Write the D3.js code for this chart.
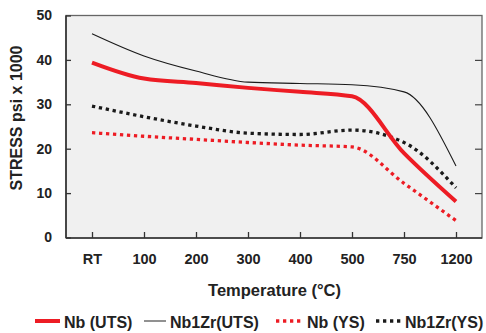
<!DOCTYPE html>
<html>
<head>
<meta charset="utf-8">
<script src="https://cdn.jsdelivr.net/npm/d3@7"></script>
<style>
  body { margin: 0; background: #fff; }
  text { font-family: "Liberation Sans", Arial, sans-serif; }
</style>
</head>
<body>
<div id="chart"></div>
<script>
const categories = ['RT', '100', '200', '300', '400', '500', '750', '1200']
const nbUTS = [39.4, 35.8, 34.8, 33.7, 32.8, 31.8, 19.0, 8.1]
const nb1ZrUTS = [45.9, 40.9, 37.5, 35.0, 34.7, 34.4, 32.8, 16.1]
const nbYS = [23.6, 22.8, 22.1, 21.4, 20.8, 20.4, 12.2, 3.8]
const nb1ZrYS = [29.6, 27.2, 25.1, 23.5, 23.2, 24.2, 21.4, 11.2]
const yTicks = [0, 10, 20, 30, 40, 50]

const Width = 486
const Height = 333
const plotLeft = 66, plotRight = 482, plotTop = 15.5, plotBottom = 238

const series = [
    { name: 'Nb (UTS)', values: nbUTS, color: '#ed1c24', width: 4, dash: null },
    { name: 'Nb1Zr(UTS)', values: nb1ZrUTS, color: '#1a1a1a', width: 1.1, dash: null },
    { name: 'Nb (YS)', values: nbYS, color: '#ed1c24', width: 3.3, dash: '3.3,3.7' },
    { name: 'Nb1Zr(YS)', values: nb1ZrYS, color: '#1a1a1a', width: 3.3, dash: '3.3,3.7' }
]

const svg = d3.select('#chart')
    .append('svg')
    .attr('width', Width)
    .attr('height', Height)

const x = d3.scalePoint()
    .domain(categories)
    .range([plotLeft, plotRight])
    .padding(0.5)

const y = d3.scaleLinear()
    .domain([0, 50])
    .range([237.5, plotTop])

// plot background + frame
svg.append('rect')
    .attr('x', plotLeft).attr('y', plotTop)
    .attr('width', plotRight - plotLeft).attr('height', plotBottom - plotTop)
    .attr('fill', '#f0f0f0')
    .attr('stroke', '#666')
    .attr('stroke-width', 1.3)

svg.append('g')
    .attr('transform', `translate(${plotLeft},0)`)
    .call(d3.axisLeft(y).tickValues(yTicks).tickSize(-5).tickPadding(14))
    .call(g => g.select('.domain').remove())
    .call(g => g.selectAll('line').attr('stroke', '#333').attr('stroke-width', 1.3))
    .call(g => g.selectAll('text').attr('font-size', 14).attr('font-weight', 'bold').attr('fill', '#222'))

svg.append('g')
    .attr('transform', `translate(${plotRight},0)`)
    .call(d3.axisRight(y).tickValues([10, 20, 30, 40]).tickSize(-7).tickFormat(''))
    .call(g => g.select('.domain').remove())
    .call(g => g.selectAll('line').attr('stroke', '#444').attr('stroke-width', 1.2))

svg.append('g')
    .attr('transform', `translate(0,${plotBottom})`)
    .call(d3.axisBottom(x).tickSize(-6).tickPadding(16))
    .call(g => g.select('.domain').remove())
    .call(g => g.selectAll('line').attr('stroke', '#333').attr('stroke-width', 1.3))
    .call(g => g.selectAll('text').attr('font-size', 14.5).attr('font-weight', 'bold').attr('fill', '#222'))

// darker left / bottom axis lines
svg.append('line')
    .attr('x1', plotLeft).attr('x2', plotLeft).attr('y1', plotTop).attr('y2', plotBottom)
    .attr('stroke', '#333').attr('stroke-width', 1.6)
svg.append('line')
    .attr('x1', plotLeft).attr('x2', plotRight).attr('y1', plotBottom).attr('y2', plotBottom)
    .attr('stroke', '#333').attr('stroke-width', 1.6)

const line = d3.line()
    .x((d, i) => x(categories[i]))
    .y(d => y(d))
    .curve(d3.curveMonotoneX)

// draw order: thin black, black dotted, red dotted, red thick
const order = [1, 3, 2, 0]
order.forEach(k => {
    const s = series[k]
    svg.append('path')
        .datum(s.values)
        .attr('d', line)
        .attr('fill', 'none')
        .attr('stroke', s.color)
        .attr('stroke-width', s.width)
        .attr('stroke-dasharray', s.dash)
})

// axis titles
svg.append('text')
    .attr('transform', 'translate(22,118) rotate(-90)')
    .attr('text-anchor', 'middle')
    .attr('font-size', 16)
    .attr('font-weight', 'bold')
    .attr('fill', '#222')
    .text('STRESS psi x 1000')

svg.append('text')
    .attr('x', 274.5)
    .attr('y', 296)
    .attr('text-anchor', 'middle')
    .attr('font-size', 16.5)
    .attr('font-weight', 'bold')
    .attr('fill', '#222')
    .text('Temperature (°C)')

// legend
const legendX = [35, 144, 276, 376]
const legendW = [25, 22, 27, 25]
series.forEach((s, i) => {
    const g = svg.append('g')
    g.append('line')
        .attr('x1', legendX[i]).attr('x2', legendX[i] + legendW[i])
        .attr('y1', 321).attr('y2', 321)
        .attr('stroke', i === 1 ? '#555' : s.color)
        .attr('stroke-width', i === 1 ? 1.3 : s.width)
        .attr('stroke-dasharray', s.dash)
    g.append('text')
        .attr('x', legendX[i] + legendW[i] + 4)
        .attr('y', 327.5)
        .attr('font-size', 16)
        .attr('font-weight', 'bold')
        .attr('fill', '#222')
        .text(s.name)
})
</script>
</body>
</html>
